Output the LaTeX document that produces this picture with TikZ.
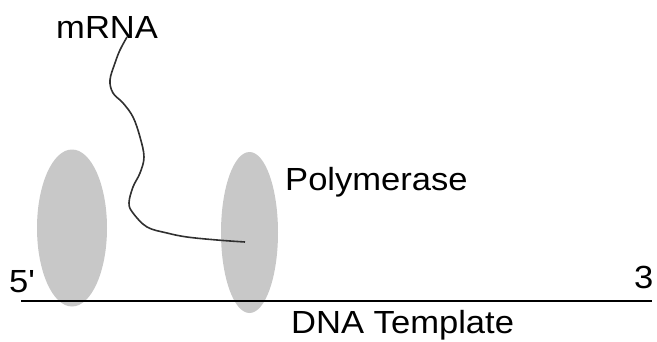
\documentclass[tikz,border=0pt]{standalone}
\usepackage{fontspec}
\setmainfont{Liberation Sans}
\newfontfamily\plainfont{Liberation Sans}
\usetikzlibrary{shapes.geometric}
\definecolor{blobgray}{HTML}{C8C8C8}
\definecolor{rnagray}{HTML}{303030}
\begin{document}
\begin{tikzpicture}[x=1pt,y=1pt,
  blob/.style={ellipse,fill=blobgray,draw=none,inner sep=0pt},
  lbl/.style={inner sep=0pt,anchor=base west,xscale=1.08,font=\fontsize{32}{36}\selectfont},
  strand/.style={line width=2pt,black},
  rna/.style={line width=1.6pt,rnagray}]
\useasboundingbox (0,0) rectangle (657,341);
% polymerases
\node[blob,minimum width=70pt,minimum height=157pt] (polA) at (72,113) {};
\node[blob,minimum width=57pt,minimum height=161pt] (polB) at (249.5,108.5) {};
% DNA strand
\coordinate (dnaL) at (21,40);
\coordinate (dnaR) at (652,40);
\draw[strand] (dnaL) -- (dnaR);
% mRNA
\coordinate (rnaTop) at (127,304);
\coordinate (rnaEnd) at (245,99);
\draw[rna] plot[smooth,tension=0.6] coordinates {(rnaTop) (120,291) (115,278) (110,261) (113,248) (123,238) (133,224) (140,204) (144,184) (140,168) (133,154) (129,138) (133,128) (147,114) (167,108) (187,104) (217,101) (rnaEnd)};
% labels
\node[lbl] (mrna) at (56,302) {mRNA};
\node[lbl] (poly) at (285,151) {Polymerase};
\node[lbl] (dna) at (291,8) {DNA Template};
\node[lbl] (five) at (9,49) {\plainfont 5'};
\node[lbl] (three) at (634,53) {3};
\end{tikzpicture}
\end{document}
